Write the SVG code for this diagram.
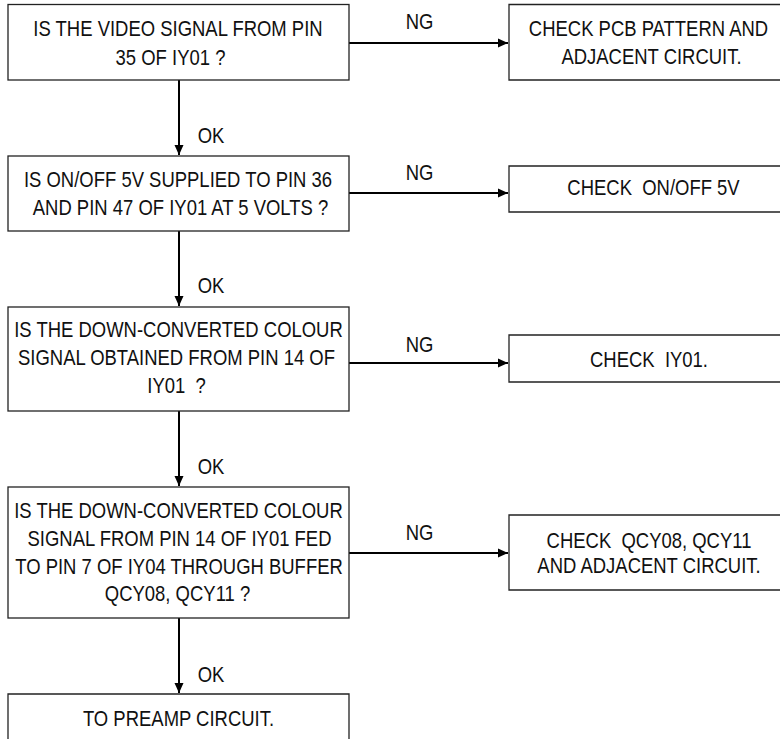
<svg xmlns="http://www.w3.org/2000/svg" width="780" height="739" viewBox="0 0 780 739">
<style>
.box{fill:#fff;stroke:#222;stroke-width:1.3}
.t{font-family:"Liberation Sans",Arial,sans-serif;font-size:22px;fill:#111;text-anchor:middle;white-space:pre}
.c{stroke:#000;stroke-width:2;fill:none}
</style>
<defs>
<marker id="ah" viewBox="0 0 10 10" refX="10" refY="5" markerWidth="10" markerHeight="10" markerUnits="userSpaceOnUse" orient="auto">
<path d="M0,0.5 L10,5 L0,9.5 Z" fill="#000"/>
</marker>
</defs>
<rect width="780" height="739" fill="#fff"/>
<g id="connectors">
<line class="c" x1="179" y1="80" x2="179" y2="155" marker-end="url(#ah)"/>
<line class="c" x1="179" y1="231" x2="179" y2="306" marker-end="url(#ah)"/>
<line class="c" x1="179" y1="411" x2="179" y2="486" marker-end="url(#ah)"/>
<line class="c" x1="179" y1="618" x2="179" y2="693" marker-end="url(#ah)"/>
<line class="c" x1="349" y1="43" x2="508" y2="43" marker-end="url(#ah)"/>
<line class="c" x1="349" y1="193" x2="508" y2="193" marker-end="url(#ah)"/>
<line class="c" x1="349" y1="363" x2="508" y2="363" marker-end="url(#ah)"/>
<line class="c" x1="349" y1="553" x2="508" y2="553" marker-end="url(#ah)"/>
<text class="t" transform="translate(211,143) scale(0.84,1)">OK</text>
<text class="t" transform="translate(211,293) scale(0.84,1)">OK</text>
<text class="t" transform="translate(211,474) scale(0.84,1)">OK</text>
<text class="t" transform="translate(211,682) scale(0.84,1)">OK</text>
<text class="t" transform="translate(419.5,29) scale(0.84,1)">NG</text>
<text class="t" transform="translate(419.5,180) scale(0.84,1)">NG</text>
<text class="t" transform="translate(419.5,352) scale(0.84,1)">NG</text>
<text class="t" transform="translate(419.5,540) scale(0.84,1)">NG</text>
</g>
<g id="q1">
<rect class="box" x="8" y="4.5" width="341" height="75.5"/>
<text class="t" transform="translate(178,36) scale(0.84,1)">IS THE VIDEO SIGNAL FROM PIN</text>
<text class="t" transform="translate(170.5,65) scale(0.84,1)">35 OF IY01 ?</text>
</g>
<g id="r1">
<path class="box" d="M780,4.5 H509 V80 H780"/>
<text class="t" transform="translate(648.5,36) scale(0.84,1)">CHECK PCB PATTERN AND</text>
<text class="t" transform="translate(651.5,64) scale(0.84,1)">ADJACENT CIRCUIT.</text>
</g>
<g id="q2">
<rect class="box" x="8" y="156" width="341" height="75"/>
<text class="t" transform="translate(178,187) scale(0.84,1)">IS ON/OFF 5V SUPPLIED TO PIN 36</text>
<text class="t" transform="translate(180.5,215) scale(0.84,1)">AND PIN 47 OF IY01 AT 5 VOLTS ?</text>
</g>
<g id="r2">
<path class="box" d="M780,166 H509 V212 H780"/>
<text class="t" transform="translate(653.5,195) scale(0.84,1)">CHECK  ON/OFF 5V</text>
</g>
<g id="q3">
<rect class="box" x="8" y="307" width="341" height="104"/>
<text class="t" transform="translate(178.5,337) scale(0.84,1)">IS THE DOWN-CONVERTED COLOUR</text>
<text class="t" transform="translate(176.5,365) scale(0.84,1)">SIGNAL OBTAINED FROM PIN 14 OF</text>
<text class="t" transform="translate(176.5,393) scale(0.84,1)">IY01  ?</text>
</g>
<g id="r3">
<path class="box" d="M780,335 H509 V382 H780"/>
<text class="t" transform="translate(649,367) scale(0.84,1)">CHECK  IY01.</text>
</g>
<g id="q4">
<rect class="box" x="8" y="487" width="341" height="131"/>
<text class="t" transform="translate(178.5,518) scale(0.84,1)">IS THE DOWN-CONVERTED COLOUR</text>
<text class="t" transform="translate(179.5,546) scale(0.84,1)">SIGNAL FROM PIN 14 OF IY01 FED</text>
<text class="t" transform="translate(179,574) scale(0.84,1)">TO PIN 7 OF IY04 THROUGH BUFFER</text>
<text class="t" transform="translate(177.5,601) scale(0.84,1)">QCY08, QCY11 ?</text>
</g>
<g id="r4">
<path class="box" d="M780,515 H509 V590 H780"/>
<text class="t" transform="translate(649,548) scale(0.84,1)">CHECK  QCY08, QCY11</text>
<text class="t" transform="translate(649,573) scale(0.84,1)">AND ADJACENT CIRCUIT.</text>
</g>
<g id="end">
<path class="box" d="M8,739 V694 H349 V739"/>
<text class="t" transform="translate(178.5,726) scale(0.84,1)">TO PREAMP CIRCUIT.</text>
</g>
</svg>
